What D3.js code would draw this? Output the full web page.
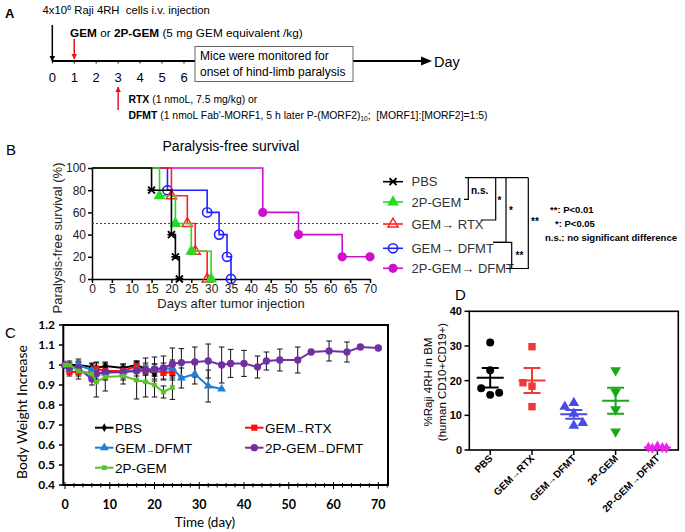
<!DOCTYPE html>
<html><head><meta charset="utf-8">
<script src="https://cdn.jsdelivr.net/npm/d3@7"></script>
<style>
body{margin:0;background:#fff}
svg{display:block}
text{font-family:"Liberation Sans",Arial,Helvetica,sans-serif}
</style>
</head><body>
<svg id="chart" width="685" height="532"></svg>
<script>
// ---------------- DATA ----------------
// Panel A timeline
const timelineDays = [0,1,2,3,4,5,6];

// Panel B survival (event days and % surviving after each event)
const survNames = ["PBS","2P-GEM","GEM\u2192 RTX","GEM\u2192 DFMT","2P-GEM\u2192 DFMT"];
const survColors = ["#000000","#22dd22","#ff2020","#2222ff","#cc11cc"];
const survMarkers = ["x","triFill","triOpen","circOpen","circFill"];
const pbsDays = [0,15,20,21,22];        const pbsSurv = [100,80,40,20,0];
const gem2pDays = [0,17,21,25,30];      const gem2pSurv = [100,75,50,25,0];
const rtxDays = [0,20,24,26,29];        const rtxSurv = [100,75,50,25,0];
const dfmtDays = [0,19,29,32,34,35];    const dfmtSurv = [100,80,60,40,20,0];
const dfmt2pDays = [0,43,52,63,70];     const dfmt2pSurv = [100,60,40,20,20];
const survTicksX = [0,5,10,15,20,25,30,35,40,45,50,55,60,65,70];
const survTicksY = [0,20,40,60,80,100];

// Panel C body weight
const bwTicksY = [0.4,0.5,0.6,0.7,0.8,0.9,1.0,1.1,1.2];
const bwTicksX = [0,10,20,30,40,50,60,70];
const bwPbsDays = [0,1,3,6,7,9,13,16,18,20];
const bwPbsVal  = [1.0,1.0,1.0,0.99,0.985,0.995,0.985,1.0,0.98,0.955];
const bwPbsErr  = [0,0.02,0.03,0.02,0.03,0.02,0.02,0.015,0.02,0.025];
const bwRtxDays = [0,1,3,6,7,9,13,16,18,20,22,24];
const bwRtxVal  = [1.0,0.965,0.965,0.96,0.98,0.97,0.97,0.995,0.97,0.975,0.96,0.965];
const bwRtxErr  = [0,0.02,0.02,0.02,0.03,0.02,0.02,0.02,0.02,0.03,0.03,0.03];
const bwDfmtDays = [0,1,3,6,7,9,13,16,18,20,22,24,26,29,32,35];
const bwDfmtVal  = [1.0,0.98,1.0,0.975,0.96,0.96,0.965,0.975,0.98,0.975,0.98,0.985,0.935,0.955,0.895,0.88];
const bwDfmtErr  = [0,0.02,0.02,0.03,0.03,0.03,0.03,0.03,0.03,0.03,0.03,0.04,0.05,0.05,0.08,0];
const bwDfmt2pDays = [0,1,3,6,7,9,13,16,18,20,22,24,26,29,32,35,37,40,43,45,48,52,55,59,63,66,70];
const bwDfmt2pVal  = [1.0,0.99,0.985,0.93,0.955,0.965,0.965,0.97,0.975,0.98,0.985,1.005,1.012,1.015,1.02,1.0,1.008,1.008,0.99,1.02,1.025,1.025,1.065,1.07,1.065,1.09,1.085];
const bwDfmt2pErr  = [0,0.02,0.03,0.03,0.04,0.04,0.04,0.05,0.06,0.06,0.06,0.08,0.07,0.075,0.085,0.09,0.07,0.065,0.055,0.045,0.055,0.065,0.01,0.05,0.05,0.01,0.01];
const bw2pDays = [0,1,3,6,7,9,13,16,18,20,22,24];
const bw2pVal  = [1.0,1.0,0.97,0.955,0.915,0.94,0.945,0.925,0.915,0.9,0.865,0.888];
const bw2pErr  = [0,0.01,0.04,0.03,0.075,0.07,0.04,0.095,0.075,0.06,0.03,0.06];

// Panel D bone marrow %
const bmCats = ["PBS","GEM\u2192RTX","GEM\u2192DFMT","2P-GEM","2P-GEM\u2192DFMT"];
const bmPbs = [31,23,15.9,17.8,16.5];
const bmRtx = [29.8,18.4,19.4,12.5];
const bmDfmt = [13.6,12.5,10.5,7.0,7.8];
const bm2p = [23,16.8,11.7,5.3];
const bmDfmt2p = [1.1,0.8,0.6,0.5,0.7];
const bmTicksY = [0,10,20,30,40];

// ---------------- DRAW ----------------
const svg = d3.select("#chart");
const LATO = 'Lato, "Liberation Sans", sans-serif';
const defs = svg.append("defs");
function arrowMarker(id, color){
  defs.append("marker").attr("id",id).attr("viewBox","0 0 10 10")
    .attr("refX",9).attr("refY",5).attr("markerWidth",4).attr("markerHeight",5)
    .attr("orient","auto").append("path").attr("d","M0,0L10,5L0,10z").attr("fill",color);
}
arrowMarker("ahK","#000"); arrowMarker("ahR","#e8141e");

// ===== Panel A =====
const gA = svg.append("g");
const xA = d3.scaleLinear().domain([0,6]).range([52.3,184]);
gA.append("text").attr("x",5).attr("y",18).text("A").style("font-weight","bold").style("font-size","13px");
const t1 = gA.append("text").attr("x",42.5).attr("y",14).style("font-size","11.3px");
t1.append("tspan").text("4x10");
t1.append("tspan").attr("dy",-4).style("font-size","7.5px").text("6");
t1.append("tspan").attr("dy",4).text(" Raji 4RH \u00a0cells i.v. injection");
const t2 = gA.append("text").attr("x",70).attr("y",37).style("font-size","11.8px");
t2.append("tspan").style("font-weight","bold").text("GEM");
t2.append("tspan").text(" or ");
t2.append("tspan").style("font-weight","bold").text("2P-GEM");
t2.append("tspan").text(" (5 mg GEM equivalent /kg)");
// main timeline axis
gA.append("line").attr("x1",xA(0)).attr("x2",424).attr("y1",61).attr("y2",61).attr("stroke","#000").attr("stroke-width",2);
gA.append("path").attr("d","M421,56.5L432,61L421,65.5Z").attr("fill","#000");
gA.selectAll(".tk").data(timelineDays).enter().append("line")
  .attr("x1",d=>xA(d)).attr("x2",d=>xA(d)).attr("y1",61).attr("y2",63.5).attr("stroke","#000");
gA.selectAll(".tl").data(timelineDays).enter().append("text")
  .attr("x",d=>xA(d)).attr("y",82).attr("text-anchor","middle").style("font-size","13px").text(d=>d);
gA.append("text").attr("x",434).attr("y",66.5).style("font-size","14.5px").text("Day");
// arrows
gA.append("line").attr("x1",xA(0)).attr("x2",xA(0)).attr("y1",25).attr("y2",61).attr("stroke","#000").attr("stroke-width",1.5).attr("marker-end","url(#ahK)");
gA.append("line").attr("x1",xA(1)).attr("x2",xA(1)).attr("y1",39).attr("y2",59).attr("stroke","#e8141e").attr("stroke-width",1.5).attr("marker-end","url(#ahR)");
gA.append("line").attr("x1",xA(3)).attr("x2",xA(3)).attr("y1",110).attr("y2",87).attr("stroke","#e8141e").attr("stroke-width",1.5).attr("marker-end","url(#ahR)");
// box
gA.append("rect").attr("x",195).attr("y",46.5).attr("width",158).attr("height",35).attr("fill","#fff").attr("stroke","#666").attr("stroke-width",1);
gA.append("text").attr("x",200).attr("y",60).style("font-size","12px").text("Mice were monitored for");
gA.append("text").attr("x",200).attr("y",76).style("font-size","12px").text("onset of hind-limb paralysis");
const t3 = gA.append("text").attr("x",128.5).attr("y",103).style("font-size","10.4px");
t3.append("tspan").style("font-weight","bold").text("RTX");
t3.append("tspan").text(" (1 nmoL, 7.5 mg/kg) or");
const t4 = gA.append("text").attr("x",128.5).attr("y",119).style("font-size","10.4px");
t4.append("tspan").style("font-weight","bold").text("DFMT");
t4.append("tspan").text(" (1 nmoL Fab'-MORF1, 5 h later P-(MORF2)");
t4.append("tspan").attr("dy",2).style("font-size","6.5px").text("10");
t4.append("tspan").attr("dy",-2).text(";\u00a0 [MORF1]:[MORF2]=1:5)");

// ===== Panel B =====
const gB = svg.append("g");
const xB = d3.scaleLinear().domain([0,70]).range([92,370]);
const yB = d3.scaleLinear().domain([0,100]).range([279,168]);
gB.append("text").attr("x",6).attr("y",155).text("B").style("font-size","15px");
gB.append("text").attr("x",231).attr("y",151).attr("text-anchor","middle").style("font-size","14px").text("Paralysis-free survival");
const axBx = gB.append("g").attr("transform","translate(0,279)")
  .call(d3.axisBottom(xB).tickValues(survTicksX).tickSize(4).tickSizeOuter(0).tickPadding(1));
const axBy = gB.append("g").attr("transform","translate(92,0)")
  .call(d3.axisLeft(yB).tickValues(survTicksY).tickSize(4).tickSizeOuter(0).tickPadding(2));
[axBx,axBy].forEach(a=>{a.selectAll("text").style("font-size","12px").style("font-family",'"Liberation Sans",Arial,sans-serif').attr("fill","#222");
  a.selectAll("line,path").attr("stroke","#000").attr("stroke-width",1.5);});
gB.append("text").attr("x",231).attr("y",308).attr("text-anchor","middle").style("font-size","13px").attr("fill","#222").text("Days after tumor injection");
gB.append("text").attr("transform","translate(62,238) rotate(-90)").attr("text-anchor","middle").style("font-size","13px").attr("fill","#222").text("Paralysis-free survival (%)");
gB.append("line").attr("x1",xB(0)).attr("x2",380).attr("y1",yB(50)).attr("y2",yB(50))
  .attr("stroke","#444").attr("stroke-width",1).attr("stroke-dasharray","2,2");

function drawMark(g, type, color, x, y, s){
  s = s||1;
  if(type==="x"){
    g.append("path").attr("d",`M${x-3.5*s},${y-3.5*s}L${x+3.5*s},${y+3.5*s}M${x-3.5*s},${y+3.5*s}L${x+3.5*s},${y-3.5*s}M${x-4*s},${y}L${x+4*s},${y}`)
      .attr("stroke",color).attr("stroke-width",1.8);
  } else if(type==="triFill"){
    g.append("path").attr("d",d3.symbol(d3.symbolTriangle,60*s*s)()).attr("transform",`translate(${x},${y})`).attr("fill",color);
  } else if(type==="triOpen"){
    g.append("path").attr("d",d3.symbol(d3.symbolTriangle,45*s*s)()).attr("transform",`translate(${x},${y})`).attr("fill","none").attr("stroke",color).attr("stroke-width",1.4);
  } else if(type==="circOpen"){
    g.append("circle").attr("cx",x).attr("cy",y).attr("r",4.6*s).attr("fill","none").attr("stroke",color).attr("stroke-width",1.6);
  } else if(type==="circFill"){
    g.append("circle").attr("cx",x).attr("cy",y).attr("r",4.6*s).attr("fill",color);
  }
}
const survSeries = [
  {days:pbsDays, surv:pbsSurv, i:0},
  {days:gem2pDays, surv:gem2pSurv, i:1},
  {days:rtxDays, surv:rtxSurv, i:2},
  {days:dfmtDays, surv:dfmtSurv, i:3},
  {days:dfmt2pDays, surv:dfmt2pSurv, i:4}
];
const stepLine = d3.line().x(d=>xB(d[0])).y(d=>yB(d[1])).curve(d3.curveStepAfter);
const drawOrder = [4,3,2,1,0];
drawOrder.forEach(k=>{
  const s = survSeries[k];
  const pts = s.days.map((d,j)=>[d,s.surv[j]]);
  gB.append("path").attr("d",stepLine(pts)).attr("fill","none").attr("stroke",survColors[s.i]).attr("stroke-width",1.6);
  pts.slice(1).forEach(p=>drawMark(gB, survMarkers[s.i], survColors[s.i], xB(p[0]), yB(p[1])));
});
// legend B
const legBY = [181.7,202,224,248.3,268.3];
survNames.forEach((n,i)=>{
  gB.append("line").attr("x1",383).attr("x2",403).attr("y1",legBY[i]).attr("y2",legBY[i]).attr("stroke",survColors[i]).attr("stroke-width",1.6);
  drawMark(gB, survMarkers[i], survColors[i], 393, legBY[i]);
  gB.append("text").attr("x",411.5).attr("y",legBY[i]+4.7).style("font-size","13px").attr("fill","#333").text(n);
});
// significance brackets
const br = gB.append("g").attr("stroke","#000").attr("stroke-width",1.2).attr("fill","none");
br.append("path").attr("d","M465,177.7H528.3");
br.append("path").attr("d","M468.3,177.7V199.3H464");
br.append("path").attr("d","M495.7,177.7V220H480.7");
br.append("path").attr("d","M506,177.7V242.3H493.3");
br.append("path").attr("d","M493.3,242.3H511.7V268.5");
br.append("path").attr("d","M528.3,177.7V268.5H506");
const sigTxt = (x,y,t,fs)=>gB.append("text").attr("x",x).attr("y",y).style("font-size",(fs||10)+"px").style("font-weight","bold").text(t);
sigTxt(471,194,"n.s.");
sigTxt(497.5,204,"*");
sigTxt(509,214,"*");
sigTxt(531,225,"**");
sigTxt(515.5,259,"**");
sigTxt(550,213,"**: P<0.01",9.5);
sigTxt(555,226.5,"*: P<0.05",9.5);
sigTxt(545,241,"n.s.: no significant difference",9.5);

// ===== Panel C =====
const gC = svg.append("g");
const xC = d3.scaleLinear().domain([0,70]).range([65,378.3]);
const yC = d3.scaleLinear().domain([0.4,1.2]).range([485,325]);
gC.append("text").attr("x",5).attr("y",338).text("C").style("font-size","15px");
// frame
gC.append("path").attr("d","M63.3,325H388V485H63.3Z").attr("fill","none").attr("stroke","#000").attr("stroke-width",2);
// y ticks
bwTicksY.forEach(v=>{
  gC.append("line").attr("x1",59).attr("x2",63.3).attr("y1",yC(v)).attr("y2",yC(v)).attr("stroke","#000").attr("stroke-width",1.5);
  gC.append("text").attr("x",55).attr("y",yC(v)+4.3).attr("text-anchor","end").style("font-family",LATO).style("font-weight","bold").style("font-size","12px").text(+v.toFixed(1));
});
d3.range(0,73,2).forEach(d=>{
  const major = d%10===0;
  gC.append("line").attr("x1",xC(d)).attr("x2",xC(d)).attr("y1",major?482:483).attr("y2",major?489:487.5).attr("stroke","#000").attr("stroke-width",1);
});
bwTicksX.forEach(d=>{
  gC.append("text").attr("x",xC(d)).attr("y",509).attr("text-anchor","middle").style("font-family",LATO).style("font-weight","bold").style("font-size","12.5px").text(d);
});
gC.append("text").attr("x",205).attr("y",527).attr("text-anchor","middle").style("font-family",LATO).style("font-size","13.5px").text("Time (day)");
gC.append("text").attr("transform","translate(26.5,412) rotate(-90)").attr("text-anchor","middle").style("font-family",LATO).style("font-size","14px").text("Body Weight Increase");

const bwSeries = [
  {name:"PBS", days:bwPbsDays, val:bwPbsVal, err:bwPbsErr, color:"#000000", mk:"diamond"},
  {name:"GEM\u2192RTX", days:bwRtxDays, val:bwRtxVal, err:bwRtxErr, color:"#ff1010", mk:"square"},
  {name:"GEM\u2192DFMT", days:bwDfmtDays, val:bwDfmtVal, err:bwDfmtErr, color:"#1f7fd6", mk:"triangle"},
  {name:"2P-GEM\u2192DFMT", days:bwDfmt2pDays, val:bwDfmt2pVal, err:bwDfmt2pErr, color:"#7030a0", mk:"circle"},
  {name:"2P-GEM", days:bw2pDays, val:bw2pVal, err:bw2pErr, color:"#5cc02c", mk:"smallsquare"}
];
function cMark(g, mk, color, x, y){
  let sym, size;
  if(mk==="diamond"){sym=d3.symbolDiamond; size=22;}
  else if(mk==="square"){sym=d3.symbolSquare; size=38;}
  else if(mk==="triangle"){sym=d3.symbolTriangle; size=34;}
  else if(mk==="circle"){sym=d3.symbolCircle; size=42;}
  else {sym=d3.symbolSquare; size=22;}
  g.append("path").attr("d",d3.symbol(sym,size)()).attr("transform",`translate(${x},${y})`).attr("fill",color);
}
const lineC = d3.line().x(d=>xC(d[0])).y(d=>yC(d[1]));
bwSeries.forEach(s=>{
  s.days.forEach((d,j)=>{
    const e = s.err[j]; if(!e) return;
    const x = xC(d), y1 = yC(s.val[j]-e), y2 = yC(s.val[j]+e);
    gC.append("path").attr("d",`M${x},${y1}V${y2}M${x-2.8},${y1}H${x+2.8}M${x-2.8},${y2}H${x+2.8}`).attr("stroke","#111").attr("stroke-width",1).attr("fill","none");
  });
});
bwSeries.forEach(s=>{
  const pts = s.days.map((d,j)=>[d,s.val[j]]);
  gC.append("path").attr("d",lineC(pts)).attr("fill","none").attr("stroke",s.color).attr("stroke-width",2);
  pts.forEach(p=>cMark(gC,s.mk,s.color,xC(p[0]),yC(p[1])));
});
// legend C
const legC = [
  {i:0,x:95,y:427.7},{i:1,x:245,y:427.7},{i:2,x:95,y:447.7},{i:3,x:245,y:447.7},{i:4,x:95,y:467.7}
];
legC.forEach(l=>{
  const s = bwSeries[l.i];
  gC.append("line").attr("x1",l.x).attr("x2",l.x+18.5).attr("y1",l.y).attr("y2",l.y).attr("stroke",s.color).attr("stroke-width",2);
  cMark(gC,s.mk,s.color,l.x+9.3,l.y);
  const parts = s.name.split("\u2192");
  const t = gC.append("text").attr("x",l.x+20).attr("y",l.y+5).style("font-size","13.5px");
  t.append("tspan").text(parts[0]);
  if(parts.length>1){
    t.append("tspan").style("font-size","9px").text("\u2192");
    t.append("tspan").text(parts[1]);
  }
});

// ===== Panel D =====
const gD = svg.append("g");
const xD = d3.scaleBand().domain(bmCats).range([469.3,678.3]);
const yD = d3.scaleLinear().domain([0,40]).range([450,311.3]);
gD.append("text").attr("x",455).attr("y",300).text("D").style("font-size","15px");
gD.append("rect").attr("x",469.3).attr("y",311.3).attr("width",209).attr("height",138.7).attr("fill","none").attr("stroke","#000").attr("stroke-width",1.6);
bmTicksY.forEach(v=>{
  gD.append("line").attr("x1",464.5).attr("x2",469.3).attr("y1",yD(v)).attr("y2",yD(v)).attr("stroke","#000").attr("stroke-width",1.5);
  gD.append("text").attr("x",462).attr("y",yD(v)+4).attr("text-anchor","end").style("font-weight","bold").style("font-size","11px").text(v);
});
bmCats.forEach(c=>{
  const cx = xD(c)+xD.bandwidth()/2;
  gD.append("line").attr("x1",cx).attr("x2",cx).attr("y1",450).attr("y2",455).attr("stroke","#000").attr("stroke-width",1.5);
  gD.append("text").attr("transform",`translate(${cx+3},${459}) rotate(-45)`).attr("text-anchor","end").style("font-weight","bold").style("font-size","10px").text(c);
});
gD.append("text").attr("transform","translate(432,382) rotate(-90)").attr("text-anchor","middle").style("font-size","11.5px").text("%Raji 4RH in BM");
gD.append("text").attr("transform","translate(445.5,382) rotate(-90)").attr("text-anchor","middle").style("font-size","11.5px").text("(human CD10+CD19+)");

const bmSeries = [
  {vals:bmPbs, color:"#000000", sym:d3.symbolCircle, size:50},
  {vals:bmRtx, color:"#f03a3a", sym:d3.symbolSquare, size:55},
  {vals:bmDfmt, color:"#4a4ae8", sym:d3.symbolTriangle, size:50},
  {vals:bm2p, color:"#18a818", sym:d3.symbolTriangle, size:50, flip:true},
  {vals:bmDfmt2p, color:"#f020f0", sym:d3.symbolDiamond, size:36}
];
bmSeries.forEach((s,k)=>{
  const cx = xD(bmCats[k])+xD.bandwidth()/2;
  // simple swarm placement, at most one step to either side
  const placed = [];
  let side = -1;
  s.vals.forEach(v=>{
    const y = yD(v);
    let off = 0;
    const clash = o=>placed.some(p=>Math.hypot(p[0]-o,p[1]-y)<8);
    if(clash(0)){
      const a = side*9, b = -side*9;
      if(!clash(a)){off=a; side=-side;}
      else if(!clash(b)){off=b;}
      else {off = side*5; side=-side;}
    }
    placed.push([off,y]);
    gD.append("path").attr("d",d3.symbol(s.sym,s.size)())
      .attr("transform",`translate(${cx+off},${y})${s.flip?" rotate(180)":""}`).attr("fill",s.color);
  });
  const m = d3.mean(s.vals), se = d3.deviation(s.vals)/Math.sqrt(s.vals.length);
  gD.append("path").attr("d",`M${cx-13.5},${yD(m)}H${cx+13.5}M${cx},${yD(m+se)}V${yD(m-se)}M${cx-8.5},${yD(m+se)}H${cx+8.5}M${cx-8.5},${yD(m-se)}H${cx+8.5}`)
    .attr("stroke",s.color).attr("stroke-width",2).attr("fill","none");
});
</script>
</body></html>
